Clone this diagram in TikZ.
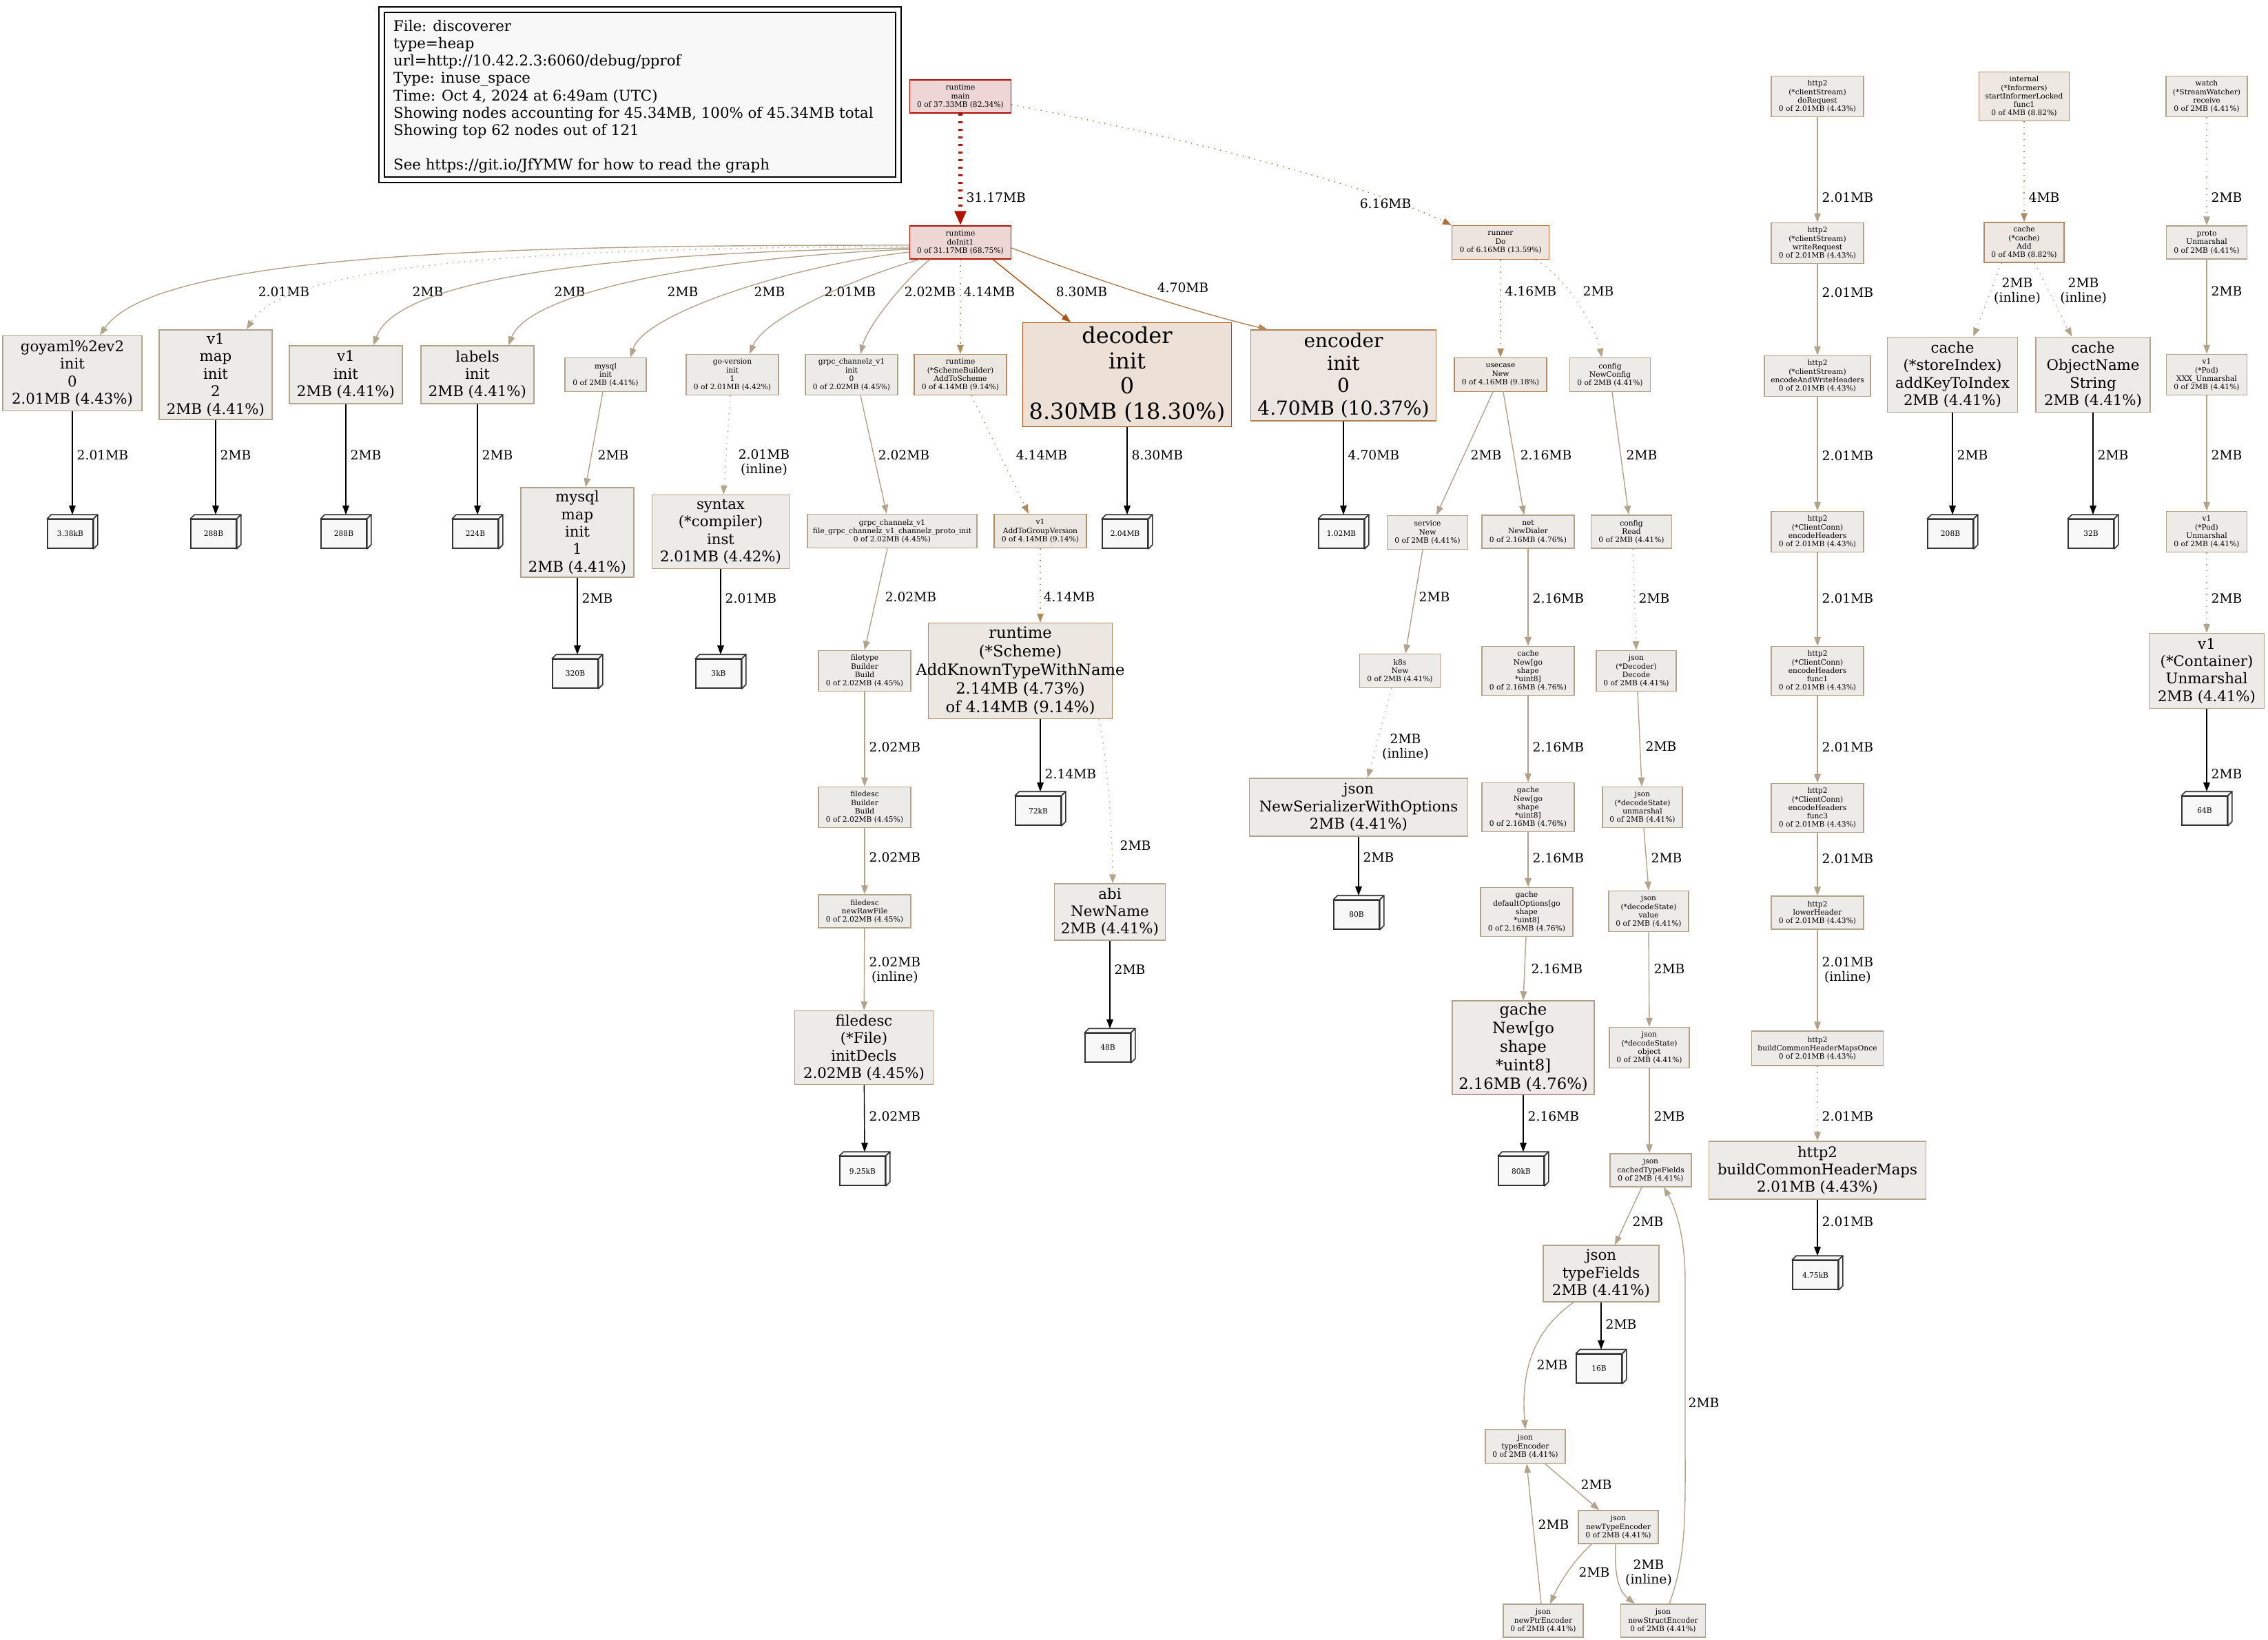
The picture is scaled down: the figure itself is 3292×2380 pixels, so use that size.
\documentclass[tikz,border=0pt]{standalone}
\usepackage{fontspec}
\setmainfont{DejaVu Serif}
\usetikzlibrary{arrows.meta,calc}
\definecolor{fgG}{HTML}{B2A38B}\definecolor{bgG}{HTML}{EDEBE7}
\definecolor{fgH}{HTML}{B2A188}\definecolor{bgH}{HTML}{EDEAE7}
\definecolor{fgO}{HTML}{B28A60}\definecolor{bgO}{HTML}{EDE7E2}
\definecolor{fgF}{HTML}{B28C63}\definecolor{bgF}{HTML}{EDE8E2}
\definecolor{fgEnc}{HTML}{B28355}\definecolor{bgEnc}{HTML}{EDE6E0}
\definecolor{fgRun}{HTML}{B26F39}\definecolor{bgRun}{HTML}{EDE4DD}
\definecolor{fgDec}{HTML}{B2500F}\definecolor{bgDec}{HTML}{EDE0D7}
\definecolor{fgInit}{HTML}{B21200}\definecolor{bgInit}{HTML}{EDD7D5}
\definecolor{fgMain}{HTML}{B20A00}\definecolor{bgMain}{HTML}{EDD6D5}
\definecolor{cubecol}{HTML}{333333}\definecolor{leaffill}{HTML}{F8F8F8}
\newcommand\FSm{\fontsize{10.67}{12.2}\selectfont}
\newcommand\FA{\fontsize{21.3}{25.4}\selectfont}
\newcommand\FB{\fontsize{22.7}{27}\selectfont}
\newcommand\FC{\fontsize{28}{32.5}\selectfont}
\newcommand\FD{\fontsize{32}{36.5}\selectfont}
\newcommand\FE{\fontsize{18.67}{21}\selectfont}
\newcommand\FL{\fontsize{21.3}{25.2}\selectfont}
\newcommand\leafcube[4]{%
  \node[leafnd] (#1) at ({#2-3},{#3+3}) {#4};
  \draw[cubest] (#1.north west) -- ++(6,-6) -- ($(#1.north east)+(6,-6)$) -- (#1.north east) -- cycle;
  \draw[cubest] (#1.north east) -- ($(#1.north east)+(6,-6)$) -- ($(#1.south east)+(6,-6)$) -- (#1.south east) -- cycle;
  \coordinate (#1t) at ($(#1.north)+(3,-6)$);
}
\begin{document}
\begin{tikzpicture}[x=1pt,y=-1pt,
  nd/.style={rectangle, line width=1.4pt, inner sep=0pt, align=center},
  sm/.style={nd, font=\FSm},
  bA/.style={nd, font=\FA},
  bB/.style={nd, font=\FB},
  bC/.style={nd, font=\FC},
  bD/.style={nd, font=\FD},
  cg/.style={draw=fgG, fill=bgG},
  cg2/.style={draw=fgH, fill=bgH},
  co/.style={draw=fgO, fill=bgO},
  sz/.style 2 args={minimum width=#1pt, minimum height=#2pt},
  ed/.style={line width=1.4pt, draw=#1, -{Triangle[length=13pt,width=9.5pt]}},
  dt/.style={dash pattern=on 1.4pt off 7.2pt},
  lb/.style={font=\FE, inner sep=0pt, align=center, text=black},
  lw/.style={lb, anchor=west},
  leafnd/.style={rectangle, draw=cubecol, fill=leaffill, line width=1.6pt, minimum width=66pt, minimum height=42pt, inner sep=0pt, font=\FSm},
  cubest/.style={draw=cubecol, fill=leaffill, line width=1.6pt, line join=round}
]
\fill[white] (0,0) rectangle (3292,2380);
\useasboundingbox (0,0) rectangle (3292,2380);

% legend
\draw[line width=1.3pt] (550,10) rectangle (1308,265);
\draw[line width=1.3pt, fill=leaffill] (558,18) rectangle (1300,257);
\node[font=\FL, align=left, anchor=north west, inner sep=0pt] (legend) at (571,29)
 {File: discoverer\\type=heap\\url=http://10.42.2.3:6060/debug/pprof\\Type: inuse\_space\\Time: Oct 4, 2024 at 6:49am (UTC)\\Showing nodes accounting for 45.34MB, 100\% of 45.34MB total\\Showing top 62 nodes out of 121\\\mbox{}\\See https://git.io/JfYMW for how to read the graph};

% top row
\node[sm,sz={147}{48},draw=fgMain,fill=bgMain] (main) at (1394,140) {runtime\\main\\0 of 37.33MB (82.34\%)};
\node[sm,sz={147}{48},draw=fgInit,fill=bgInit] (doinit) at (1394,352) {runtime\\doInit1\\0 of 31.17MB (68.75\%)};
\node[sm,sz={141}{49},draw=fgRun,fill=bgRun] (runner) at (2178,352) {runner\\Do\\0 of 6.16MB (13.59\%)};
\node[sm,sz={134}{59},cg] (hdo) at (2638,140) {http2\\(*clientStream)\\doRequest\\0 of 2.01MB (4.43\%)};
\node[sm,sz={131}{71},draw=fgF,fill=bgF] (informers) at (2938,140) {internal\\(*Informers)\\startInformerLocked\\func1\\0 of 4MB (8.82\%)};
\node[sm,sz={118}{59},cg] (watch) at (3203,140) {watch\\(*StreamWatcher)\\receive\\0 of 2MB (4.41\%)};

% row 544
\node[bA,sz={202}{109},cg] (goyaml) at (105,542) {goyaml\%2ev2\\init\\0\\2.01MB (4.43\%)};
\node[bA,sz={164}{130},cg] (v1map) at (313,544) {v1\\map\\init\\2\\2MB (4.41\%)};
\node[bA,sz={164}{84},cg] (v1init) at (502,544) {v1\\init\\2MB (4.41\%)};
\node[bA,sz={164}{84},cg] (labels) at (693,544) {labels\\init\\2MB (4.41\%)};
\node[sm,sz={118}{49},cg] (mysqlinit) at (879,544) {mysql\\init\\0 of 2MB (4.41\%)};
\node[sm,sz={134}{59},cg] (goversion) at (1063,544) {go-version\\init\\1\\0 of 2.01MB (4.42\%)};
\node[sm,sz={134}{59},cg] (grpcinit) at (1236,544) {grpc\_channelz\_v1\\init\\0\\0 of 2.02MB (4.45\%)};
\node[sm,sz={134}{59},co] (schemeb) at (1394,544) {runtime\\(*SchemeBuilder)\\AddToScheme\\0 of 4.14MB (9.14\%)};
\node[bD,sz={303}{151},draw=fgDec,fill=bgDec] (decoder) at (1636,544) {decoder\\init\\0\\8.30MB (18.30\%)};
\node[bC,sz={269}{132},draw=fgEnc,fill=bgEnc] (encoder) at (1950,545) {encoder\\init\\0\\4.70MB (10.37\%)};
\node[sm,sz={134}{49},co] (usecase) at (2178,544) {usecase\\New\\0 of 4.16MB (9.18\%)};
\node[sm,sz={117}{49},cg] (newconfig) at (2337,544) {config\\NewConfig\\0 of 2MB (4.41\%)};
\node[sm,sz={134}{59},cg] (hwrite) at (2638,353) {http2\\(*clientStream)\\writeRequest\\0 of 2.01MB (4.43\%)};
\node[sm,sz={116}{58},draw=fgF,fill=bgF] (cacheadd) at (2938,352) {cache\\(*cache)\\Add\\0 of 4MB (8.82\%)};
\node[sm,sz={117}{48},cg] (proto) at (3203,352) {proto\\Unmarshal\\0 of 2MB (4.41\%)};
\node[sm,sz={154}{59},cg] (henc) at (2638,546) {http2\\(*clientStream)\\encodeAndWriteHeaders\\0 of 2.01MB (4.43\%)};
\node[bA,sz={189}{109},cg] (storeidx) at (2834,544) {cache\\(*storeIndex)\\addKeyToIndex\\2MB (4.41\%)};
\node[bA,sz={166}{109},cg] (objname) at (3038,544) {cache\\ObjectName\\String\\2MB (4.41\%)};
\node[sm,sz={117}{59},cg] (xxxpod) at (3203,544) {v1\\(*Pod)\\XXX\_Unmarshal\\0 of 2MB (4.41\%)};

% row 772
\node[bA,sz={164}{130},cg] (mysqlmap) at (838,773) {mysql\\map\\init\\1\\2MB (4.41\%)};
\node[bA,sz={199}{107},cg] (syntax) at (1046,772) {syntax\\(*compiler)\\inst\\2.01MB (4.42\%)};
\node[sm,sz={246}{49},cg] (filegrpc) at (1295,771) {grpc\_channelz\_v1\\file\_grpc\_channelz\_v1\_channelz\_proto\_init\\0 of 2.02MB (4.45\%)};
\node[sm,sz={134}{49},co] (addgroup) at (1510,771) {v1\\AddToGroupVersion\\0 of 4.14MB (9.14\%)};
\node[sm,sz={117}{49},cg] (service) at (2072,773) {service\\New\\0 of 2MB (4.41\%)};
\node[sm,sz={134}{48},cg2] (netdialer) at (2218,772) {net\\NewDialer\\0 of 2.16MB (4.76\%)};
\node[sm,sz={117}{48},cg] (cfgread) at (2368,772) {config\\Read\\0 of 2MB (4.41\%)};
\node[sm,sz={134}{59},cg] (hhdr) at (2638,772) {http2\\(*ClientConn)\\encodeHeaders\\0 of 2.01MB (4.43\%)};
\node[sm,sz={117}{59},cg] (podunm) at (3203,772) {v1\\(*Pod)\\Unmarshal\\0 of 2MB (4.41\%)};

% row 974
\node[sm,sz={134}{59},cg] (filetype) at (1255,974) {filetype\\Builder\\Build\\0 of 2.02MB (4.45\%)};
\node[bB,sz={267}{139},co] (scheme) at (1481,974) {runtime\\(*Scheme)\\\makebox[250pt]{AddKnownTypeWithName}\\2.14MB (4.73\%)\\of 4.14MB (9.14\%)};
\node[sm,sz={117}{49},cg] (k8s) at (2032,974) {k8s\\New\\0 of 2MB (4.41\%)};
\node[sm,sz={134}{71},cg2] (cachenew) at (2218,974) {cache\\New[go\\shape\\{}*uint8]\\0 of 2.16MB (4.76\%)};
\node[sm,sz={116}{59},cg] (decode) at (2375,974) {json\\(*Decoder)\\Decode\\0 of 2MB (4.41\%)};
\node[sm,sz={134}{71},cg] (hf1) at (2638,974) {http2\\(*ClientConn)\\encodeHeaders\\func1\\0 of 2.01MB (4.43\%)};
\node[bA,sz={167}{109},cg] (container) at (3203,974) {v1\\(*Container)\\Unmarshal\\2MB (4.41\%)};

% row 1172
\node[sm,sz={134}{59},cg] (filedescb) at (1255,1172) {filedesc\\Builder\\Build\\0 of 2.02MB (4.45\%)};
\node[bA,sz={317}{84},cg] (serializer) at (1972,1172) {json\\NewSerializerWithOptions\\2MB (4.41\%)};
\node[sm,sz={134}{71},cg2] (gachenew) at (2218,1172) {gache\\New[go\\shape\\{}*uint8]\\0 of 2.16MB (4.76\%)};
\node[sm,sz={116}{59},cg] (unmarshal) at (2384,1172) {json\\(*decodeState)\\unmarshal\\0 of 2MB (4.41\%)};
\node[sm,sz={134}{71},cg] (hf3) at (2638,1173) {http2\\(*ClientConn)\\encodeHeaders\\func3\\0 of 2.01MB (4.43\%)};

% row 1324
\node[sm,sz={134}{48},cg] (newraw) at (1255,1323) {filedesc\\newRawFile\\0 of 2.02MB (4.45\%)};
\node[bA,sz={161}{82},cg] (abi) at (1611,1324) {abi\\NewName\\2MB (4.41\%)};
\node[sm,sz={134}{71},cg2] (gachedef) at (2216,1324) {gache\\defaultOptions[go\\shape\\{}*uint8]\\0 of 2.16MB (4.76\%)};
\node[sm,sz={116}{59},cg] (value) at (2393,1323) {json\\(*decodeState)\\value\\0 of 2MB (4.41\%)};
\node[sm,sz={134}{48},cg] (lower) at (2638,1325) {http2\\lowerHeader\\0 of 2.01MB (4.43\%)};

% row 1521
\node[bA,sz={201}{107},cg] (initdecls) at (1254,1521) {filedesc\\(*File)\\initDecls\\2.02MB (4.45\%)};
\node[bB,sz={206}{136},cg2] (gachebig) at (2211,1521) {gache\\New[go\\shape\\{}*uint8]\\2.16MB (4.76\%)};
\node[sm,sz={116}{59},cg] (object) at (2394,1521) {json\\(*decodeState)\\object\\0 of 2MB (4.41\%)};
\node[sm,sz={191}{50},cg] (honce) at (2638,1522) {http2\\buildCommonHeaderMapsOnce\\0 of 2.01MB (4.43\%)};

% lower json
\node[sm,sz={118}{48},cg] (cachedtf) at (2396,1699) {json\\cachedTypeFields\\0 of 2MB (4.41\%)};
\node[bA,sz={315}{84},cg] (hmaps) at (2638,1699) {http2\\buildCommonHeaderMaps\\2.01MB (4.43\%)};
\node[bA,sz={168}{82},cg] (typefields) at (2324,1849) {json\\typeFields\\2MB (4.41\%)};
\node[sm,sz={116}{49},cg] (typeenc) at (2214,2100) {json\\typeEncoder\\0 of 2MB (4.41\%)};
\node[sm,sz={116}{48},cg] (newtypeenc) at (2349,2217) {json\\newTypeEncoder\\0 of 2MB (4.41\%)};
\node[sm,sz={116}{48},cg] (newptr) at (2240,2353) {json\\newPtrEncoder\\0 of 2MB (4.41\%)};
\node[sm,sz={123}{48},cg] (newstruct) at (2414,2353) {json\\newStructEncoder\\0 of 2MB (4.41\%)};

% leaf cubes
\leafcube{c338}{105}{772}{3.38kB}
\leafcube{c288a}{313}{772}{288B}
\leafcube{c288b}{502}{772}{288B}
\leafcube{c224}{693}{772}{224B}
\leafcube{c204}{1636}{772}{2.04MB}
\leafcube{c102}{1950}{772}{1.02MB}
\leafcube{c208}{2834}{772}{208B}
\leafcube{c32}{3038}{772}{32B}
\leafcube{c320}{838}{975}{320B}
\leafcube{c3k}{1046}{975}{3kB}
\leafcube{c72k}{1510}{1174}{72kB}
\leafcube{c64}{3203}{1174}{64B}
\leafcube{c80}{1972}{1325}{80B}
\leafcube{c48}{1611}{1518}{48B}
\leafcube{c925}{1255}{1697}{9.25kB}
\leafcube{c80k}{2211}{1697}{80kB}
\leafcube{c475}{2638}{1848}{4.75kB}
\leafcube{c16}{2324}{1984}{16B}

% edges from main
\draw[ed=fgInit, line width=5.3pt, dash pattern=on 3.3pt off 7.7pt, -{Triangle[length=21pt,width=16pt]}] (main) -- (doinit) node[lw] at (1400,287) {31.17MB};
\draw[ed=fgRun, dt] ($(main.east)+(0,12)$) .. controls (1750,205) and (2000,275) .. (runner.north west) node[lb] at (2011,296) {6.16MB};

% fan from doInit1
\draw[ed=fgG] ($(doinit.west)+(0,4)$) .. controls (800,356) and (230,362) .. ($(goyaml.north)+(40,0)$) node[lb] at (412,424) {2.01MB};
\draw[ed=fgG, dt] ($(doinit.west)+(0,6)$) .. controls (850,360) and (420,375) .. ($(v1map.north)+(45,0)$) node[lb] at (621,424) {2MB};
\draw[ed=fgG] ($(doinit.west)+(0,8)$) .. controls (950,365) and (580,395) .. ($(v1init.north)+(40,0)$) node[lb] at (827,424) {2MB};
\draw[ed=fgG] ($(doinit.west)+(0,10)$) .. controls (1050,372) and (770,420) .. ($(labels.north)+(45,0)$) node[lb] at (991,424) {2MB};
\draw[ed=fgG] ($(doinit.west)+(0,14)$) .. controls (1150,385) and (935,455) .. ($(mysqlinit.north)+(36,0)$) node[lb] at (1117,424) {2MB};
\draw[ed=fgG] ($(doinit.south west)+(15,0)$) .. controls (1250,400) and (1110,460) .. ($(goversion.north)+(25,0)$) node[lb] at (1234,424) {2.01MB};
\draw[ed=fgG] ($(doinit.south west)+(30,0)$) .. controls (1320,400) and (1260,470) .. ($(grpcinit.north)+(13,0)$) node[lb] at (1350,424) {2.02MB};
\draw[ed=fgO, dt] (doinit.south) -- (schemeb.north) node[lb] at (1436,424) {4.14MB};
\draw[ed=fgDec] ($(doinit.south east)+(-27,0)$) -- ($(decoder.north)+(-82,0)$) node[lb] at (1570,424) {8.30MB};
\draw[ed=fgEnc] ($(doinit.east)+(0,8)$) .. controls (1560,395) and (1720,450) .. ($(encoder.north west)+(25,0)$) node[lb] at (1717,418) {4.70MB};

% leaves row 1
\draw[ed=black] (goyaml) -- (c338t) node[lw] at (111,661) {2.01MB};
\draw[ed=black] (v1map) -- (c288at) node[lw] at (319,661) {2MB};
\draw[ed=black] (v1init) -- (c288bt) node[lw] at (508,661) {2MB};
\draw[ed=black] (labels) -- (c224t) node[lw] at (699,661) {2MB};
\draw[ed=black] (decoder) -- (c204t) node[lw] at (1642,661) {8.30MB};
\draw[ed=black] (encoder) -- (c102t) node[lw] at (1956,661) {4.70MB};

% left middle
\draw[ed=fgG] ($(mysqlinit.south)+(-4,0)$) -- ($(mysqlmap.north)+(12,0)$) node[lb] at (890,661) {2MB};
\draw[ed=fgG, dt] ($(goversion.south)+(-3,0)$) -- ($(syntax.north)+(4,0)$) node[lb] at (1109,672) {2.01MB\\(inline)};
\draw[ed=fgG] ($(grpcinit.south)+(13,0)$) -- ($(filegrpc.north)+(-8,0)$) node[lb] at (1312,661) {2.02MB};
\draw[ed=fgO, dt] ($(schemeb.south)+(16,0)$) -- ($(addgroup.north)+(-17,0)$) node[lb] at (1512,661) {4.14MB};
\draw[ed=black] (mysqlmap) -- (c320t) node[lw] at (844,869) {2MB};
\draw[ed=black] (syntax) -- (c3kt) node[lw] at (1052,869) {2.01MB};
\draw[ed=fgG] ($(filegrpc.south)+(-7,0)$) -- (filetype.north) node[lb] at (1322,867) {2.02MB};
\draw[ed=fgO, dt] (addgroup.south) -- ($(scheme.north)+(29,0)$) node[lb] at (1552,867) {4.14MB};
\draw[ed=fgG] (filetype) -- (filedescb) node[lw] at (1261,1085) {2.02MB};
\draw[ed=fgG] (filedescb) -- (newraw) node[lw] at (1261,1245) {2.02MB};
\draw[ed=fgG] (newraw) -- (initdecls) node[lw] at (1261,1409) {2.02MB\\(inline)};
\draw[ed=black] (initdecls) -- (c925t) node[lw] at (1261,1621) {2.02MB};
\draw[ed=black] ($(scheme.south)+(29,0)$) -- (c72kt) node[lw] at (1516,1124) {2.14MB};
\draw[ed=fgG, dt] ($(scheme.south east)+(-20,0)$) .. controls (1610,1120) and (1615,1230) .. ($(abi.north)+(4,0)$) node[lb] at (1648,1228) {2MB};
\draw[ed=black] (abi) -- (c48t) node[lw] at (1617,1408) {2MB};

% runner subtree
\draw[ed=fgO, dt] (runner) -- (usecase) node[lw] at (2184,423) {4.16MB};
\draw[ed=fgG, dt] ($(runner.south east)+(-20,0)$) .. controls (2270,400) and (2315,470) .. ($(newconfig.north)+(-12,0)$) node[lb] at (2320,423) {2MB};
\draw[ed=fgG] ($(usecase.south)+(-11,0)$) -- ($(service.north)+(13,0)$) node[lb] at (2157,661) {2MB};
\draw[ed=fgH] ($(usecase.south)+(4,0)$) -- ($(netdialer.north)+(-6,0)$) node[lb] at (2244,661) {2.16MB};
\draw[ed=fgG] ($(newconfig.south)+(3,0)$) -- ($(cfgread.north)+(-4,0)$) node[lb] at (2383,661) {2MB};
\draw[ed=fgG] ($(service.south)+(-7,0)$) -- ($(k8s.north)+(8,0)$) node[lb] at (2082,867) {2MB};
\draw[ed=fgG, dt] ($(k8s.south)+(-12,0)$) -- ($(serializer.north)+(13,0)$) node[lb] at (2040,1085) {2MB\\(inline)};
\draw[ed=black] (serializer) -- (c80t) node[lw] at (1978,1245) {2MB};
\draw[ed=fgH] (netdialer) -- (cachenew) node[lw] at (2224,869) {2.16MB};
\draw[ed=fgH] (cachenew) -- (gachenew) node[lw] at (2224,1085) {2.16MB};
\draw[ed=fgH] (gachenew.south) -- ($(gachedef.north)+(2,0)$) node[lw] at (2224,1246) {2.16MB};
\draw[ed=fgH] ($(gachedef.south)+(-1,0)$) -- (gachebig.north) node[lw] at (2222,1407) {2.16MB};
\draw[ed=black] (gachebig) -- (c80kt) node[lw] at (2217,1621) {2.16MB};
\draw[ed=fgG, dt] ($(cfgread.south)+(2,0)$) -- (decode.north) node[lw] at (2378,869) {2MB};
\draw[ed=fgG] ($(decode.south)+(2,0)$) -- ($(unmarshal.north)+(-1,0)$) node[lw] at (2388,1084) {2MB};
\draw[ed=fgG] ($(unmarshal.south)+(2,0)$) -- (value.north) node[lw] at (2396,1246) {2MB};
\draw[ed=fgG] (value.south) -- (object.north) node[lw] at (2400,1407) {2MB};
\draw[ed=fgG] (object.south) -- ($(cachedtf.north)+(-2,0)$) node[lw] at (2400,1621) {2MB};
\draw[ed=fgG] ($(cachedtf.south)+(-13,0)$) -- ($(typefields.north)+(20,0)$) node[lb] at (2392,1774) {2MB};
\draw[ed=black] (typefields) -- (c16t) node[lw] at (2330,1923) {2MB};
\draw[ed=fgG] ($(typefields.south west)+(45,0)$) .. controls (2220,1935) and (2208,2000) .. (typeenc.north) node[lb] at (2253,1982) {2MB};
\draw[ed=fgG] ($(typeenc.south east)+(-30,0)$) -- ($(newtypeenc.north west)+(31,0)$) node[lb] at (2317,2156) {2MB};
\draw[ed=fgG] ($(newtypeenc.south west)+(20,0)$) .. controls (2285,2265) and (2265,2295) .. ($(newptr.north)+(10,0)$) node[lb] at (2314,2283) {2MB};
\draw[ed=fgG] ($(newtypeenc.south)+(-4,0)$) .. controls (2343,2290) and (2350,2310) .. ($(newstruct.north west)+(21,0)$) node[lb] at (2393,2283) {2MB\\(inline)};
\draw[ed=fgG] ($(newptr.north)+(-3,0)$) -- ($(typeenc.south)+(2,0)$) node[lb] at (2255,2214) {2MB};
\draw[ed=fgG] ($(newstruct.north)+(9,0)$) .. controls (2448,2260) and (2446,2200) .. (2446,2100) -- (2446,1860) .. controls (2446,1790) and (2430,1750) .. ($(cachedtf.south)+(19,0)$) node[lb] at (2473,2037) {2MB};

% http2 column
\draw[ed=fgG] (hdo) -- (hwrite) node[lw] at (2644,287) {2.01MB};
\draw[ed=fgG] (hwrite) -- (henc) node[lw] at (2644,425) {2.01MB};
\draw[ed=fgG] (henc) -- (hhdr) node[lw] at (2644,662) {2.01MB};
\draw[ed=fgG] (hhdr) -- (hf1) node[lw] at (2644,869) {2.01MB};
\draw[ed=fgG] (hf1) -- (hf3) node[lw] at (2644,1085) {2.01MB};
\draw[ed=fgG] (hf3) -- (lower) node[lw] at (2644,1247) {2.01MB};
\draw[ed=fgG] (lower) -- (honce) node[lw] at (2644,1409) {2.01MB\\(inline)};
\draw[ed=fgG, dt] (honce) -- (hmaps) node[lw] at (2644,1621) {2.01MB};
\draw[ed=black] (hmaps) -- (c475t) node[lw] at (2644,1774) {2.01MB};

% right
\draw[ed=fgF, dt] (informers) -- (cacheadd) node[lw] at (2944,287) {4MB};
\draw[ed=fgG, dt] ($(cacheadd.south west)+(26,0)$) -- ($(storeidx.north east)+(-65,0)$) node[lb] at (2928,423) {2MB\\(inline)};
\draw[ed=fgG, dt] ($(cacheadd.south)+(15,0)$) -- ($(objname.north west)+(53,0)$) node[lb] at (3024,423) {2MB\\(inline)};
\draw[ed=black] (storeidx) -- (c208t) node[lw] at (2840,661) {2MB};
\draw[ed=black] (objname) -- (c32t) node[lw] at (3044,661) {2MB};
\draw[ed=fgG, dt] (watch) -- (proto) node[lw] at (3209,287) {2MB};
\draw[ed=fgG] (proto) -- (xxxpod) node[lw] at (3209,423) {2MB};
\draw[ed=fgG] (xxxpod) -- (podunm) node[lw] at (3209,661) {2MB};
\draw[ed=fgG, dt] (podunm) -- (container) node[lw] at (3209,869) {2MB};
\draw[ed=black] (container) -- (c64t) node[lw] at (3209,1124) {2MB};
\end{tikzpicture}
\end{document}
